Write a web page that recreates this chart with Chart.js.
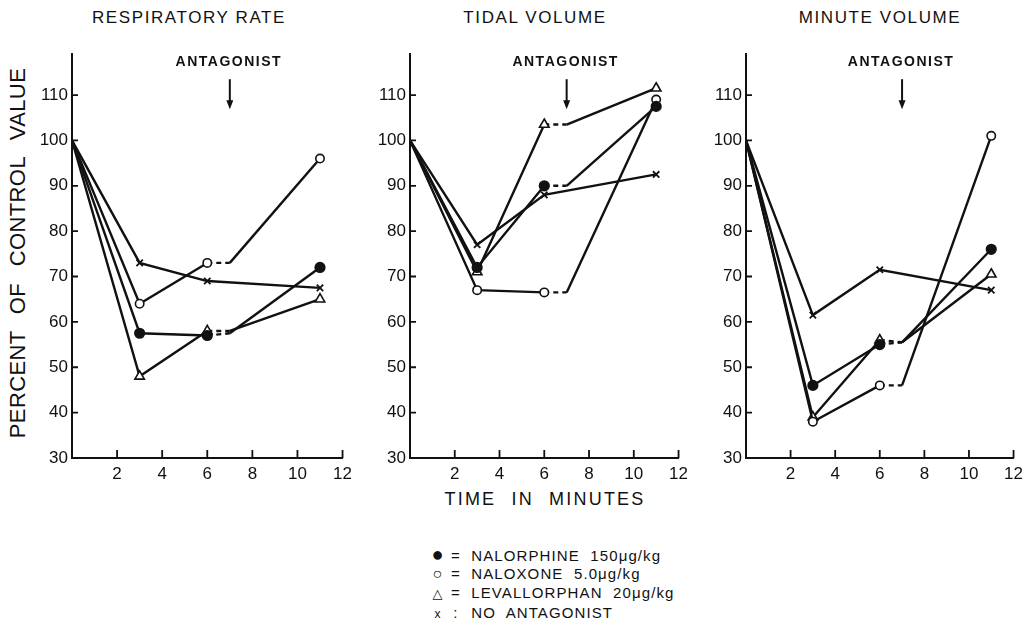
<!DOCTYPE html>
<html>
<head>
<meta charset="utf-8">
<script src="https://cdn.jsdelivr.net/npm/chart.js@4/dist/chart.umd.min.js"></script>
<style>
  html, body { margin: 0; padding: 0; background: #fff; }
  body { width: 1033px; height: 627px; position: relative; overflow: hidden; font-family: "Liberation Sans", "DejaVu Sans", sans-serif; color: #111; }
  .cv { position: absolute; }
  .txt { position: absolute; white-space: nowrap; color: #111; }
  .title { font-size: 17px; letter-spacing: 1.6px; top: 8px; transform: translateX(-50%); }
  .ylab { font-size: 22px; letter-spacing: 0.4px; word-spacing: 10px; left: 18px; top: 253px; transform: translate(-50%, -50%) rotate(-90deg); }
  .xlab { font-size: 18px; letter-spacing: 2.2px; word-spacing: 8px; left: 545px; top: 489px; transform: translateX(-50%); }
  .leg { font-size: 15px; letter-spacing: 1.1px; left: 430px; line-height: 18px; }
  .leg span.sym { display: inline-block; width: 16px; text-align: center; vertical-align: baseline; }
  .leg span.eq { display: inline-block; width: 20px; text-align: center; }
</style>
</head>
<body>
<div class="txt title" style="left:189px">RESPIRATORY RATE</div>
<div class="txt title" style="left:535px">TIDAL VOLUME</div>
<div class="txt title" style="left:880px">MINUTE VOLUME</div>
<div class="txt ylab">PERCENT OF CONTROL VALUE</div>
<div class="txt xlab">TIME IN MINUTES</div>
<div class="txt leg" style="top:545px"><span class="sym" style="font-size:20px;line-height:18px">●</span><span class="eq">=</span> NALORPHINE&nbsp; 150μg/kg</div>
<div class="txt leg" style="top:565px"><span class="sym" style="font-size:16px">○</span><span class="eq">=</span> NALOXONE&nbsp; 5.0μg/kg</div>
<div class="txt leg" style="top:584px"><span class="sym" style="font-size:13px">△</span><span class="eq">=</span> LEVALLORPHAN&nbsp; 20μg/kg</div>
<div class="txt leg" style="top:604px"><span class="sym" style="font-size:12px">x</span><span class="eq">:</span> NO&nbsp; ANTAGONIST</div>

<canvas id="c1" class="cv" style="left:20px;top:40px;width:338px;height:448px" width="338" height="448"></canvas>
<canvas id="c2" class="cv" style="left:358px;top:40px;width:336px;height:448px" width="336" height="448"></canvas>
<canvas id="c3" class="cv" style="left:694px;top:40px;width:335px;height:448px" width="335" height="448"></canvas>

<script>
// ---- data ----
const timesAnt = [0, 3, 6, 7, 11];      // antagonist given at 7 min
const timesNone = [0, 3, 6, 11];
const xTicks = [2, 4, 6, 8, 10, 12];
const yTicks = [30, 40, 50, 60, 70, 80, 90, 100, 110];
const antagonistTime = 7;

// Respiratory rate
const rrNalorphine = [100, 57.5, 57, 57.5, 72];
const rrNaloxone = [100, 64, 73, 73, 96];
const rrLevallorphan = [100, 48, 58, 58, 65];
const rrNone = [100, 73, 69, 67.5];

// Tidal volume
const tvNalorphine = [100, 72, 90, 90, 107.5];
const tvNaloxone = [100, 67, 66.5, 66.5, 109];
const tvLevallorphan = [100, 71, 103.5, 103.5, 111.5];
const tvNone = [100, 77, 88, 92.5];

// Minute volume
const mvNalorphine = [100, 46, 55, 55.5, 76];
const mvNaloxone = [100, 38, 46, 46, 101];
const mvLevallorphan = [100, 39, 56, 55.5, 70.5];
const mvNone = [100, 61.5, 71.5, 67];

// ---- chart builder ----
const INK = '#111';
const FONT = '"Liberation Sans", "DejaVu Sans", sans-serif';

function pts(xs, ys) { return xs.map((x, i) => ({ x: x, y: ys[i] })); }

function antSeries(label, ys, style, fill, r) {
  return {
    label: label,
    data: pts(timesAnt, ys),
    borderColor: INK,
    borderWidth: 2.4,
    pointStyle: style,
    pointRadius: [0, r, r, 0, r],
    pointBorderWidth: 1.6,
    pointBorderColor: INK,
    pointBackgroundColor: fill,
    segment: { borderDash: ctx => ctx.p0DataIndex === 2 ? [5, 4] : undefined },
    tension: 0
  };
}
function noneSeries(ys) {
  return {
    label: 'No antagonist',
    data: pts(timesNone, ys),
    borderColor: INK,
    borderWidth: 2.4,
    pointStyle: 'crossRot',
    pointRadius: [0, 4.5, 4.5, 4.5],
    pointBorderWidth: 1.8,
    pointBorderColor: INK,
    pointBackgroundColor: INK,
    tension: 0
  };
}

const innerTicks = {
  id: 'innerTicks',
  afterDraw(chart) {
    const { ctx, scales: { x, y }, chartArea } = chart;
    ctx.save();
    ctx.strokeStyle = INK;
    ctx.lineWidth = 1.8;
    ctx.beginPath();
    yTicks.forEach(v => {
      const py = y.getPixelForValue(v);
      ctx.moveTo(chartArea.left, py); ctx.lineTo(chartArea.left + 6, py);
    });
    xTicks.forEach(v => {
      const px = x.getPixelForValue(v);
      ctx.moveTo(px, chartArea.bottom); ctx.lineTo(px, chartArea.bottom - 8);
    });
    ctx.stroke();
    // antagonist annotation
    const ax = x.getPixelForValue(antagonistTime);
    ctx.fillStyle = INK;
    ctx.font = 'bold 14px ' + FONT;
    ctx.textAlign = 'center';
    ctx.textBaseline = 'middle';
    if ('letterSpacing' in ctx) ctx.letterSpacing = '1.5px';
    ctx.fillText('ANTAGONIST', ax - 1, chartArea.top + 8);
    ctx.lineWidth = 2;
    ctx.beginPath();
    ctx.moveTo(ax, chartArea.top + 25);
    ctx.lineTo(ax, chartArea.top + 50);
    ctx.stroke();
    ctx.beginPath();
    ctx.moveTo(ax - 3.5, chartArea.top + 46);
    ctx.lineTo(ax + 3.5, chartArea.top + 46);
    ctx.lineTo(ax, chartArea.top + 55);
    ctx.closePath();
    ctx.fill();
    ctx.restore();
  }
};

function makeChart(id, nal, nax, lev, none) {
  return new Chart(document.getElementById(id), {
    type: 'line',
    data: {
      datasets: [
        antSeries('Nalorphine 150 μg/kg', nal, 'circle', INK, 4.8),
        antSeries('Naloxone 5.0 μg/kg', nax, 'circle', '#fff', 4.2),
        antSeries('Levallorphan 20 μg/kg', lev, 'triangle', '#fff', 5.5),
        noneSeries(none)
      ]
    },
    options: {
      responsive: false,
      animation: false,
      layout: { padding: { top: 12, right: 15, left: 0, bottom: 0 } },
      plugins: { legend: { display: false }, tooltip: { enabled: false } },
      scales: {
        x: {
          type: 'linear', min: 0, max: 12,
          afterBuildTicks: s => { s.ticks = xTicks.map(v => ({ value: v })); },
          afterFit: s => { s.height = 30; },
          grid: { display: false, drawTicks: false, tickLength: 0 },
          border: { display: true, color: INK, width: 2 },
          ticks: { color: INK, font: { family: FONT, size: 17 }, padding: 6, maxRotation: 0 }
        },
        y: {
          type: 'linear', min: 30, max: 119,
          afterBuildTicks: s => { s.ticks = yTicks.map(v => ({ value: v })); },
          afterFit: s => { s.width = 52; },
          grid: { display: false, drawTicks: false, tickLength: 0 },
          border: { display: true, color: INK, width: 2 },
          ticks: { color: INK, font: { family: FONT, size: 17 }, padding: 4 }
        }
      }
    },
    plugins: [innerTicks]
  });
}

makeChart('c1', rrNalorphine, rrNaloxone, rrLevallorphan, rrNone);
makeChart('c2', tvNalorphine, tvNaloxone, tvLevallorphan, tvNone);
makeChart('c3', mvNalorphine, mvNaloxone, mvLevallorphan, mvNone);
</script>
</body>
</html>
